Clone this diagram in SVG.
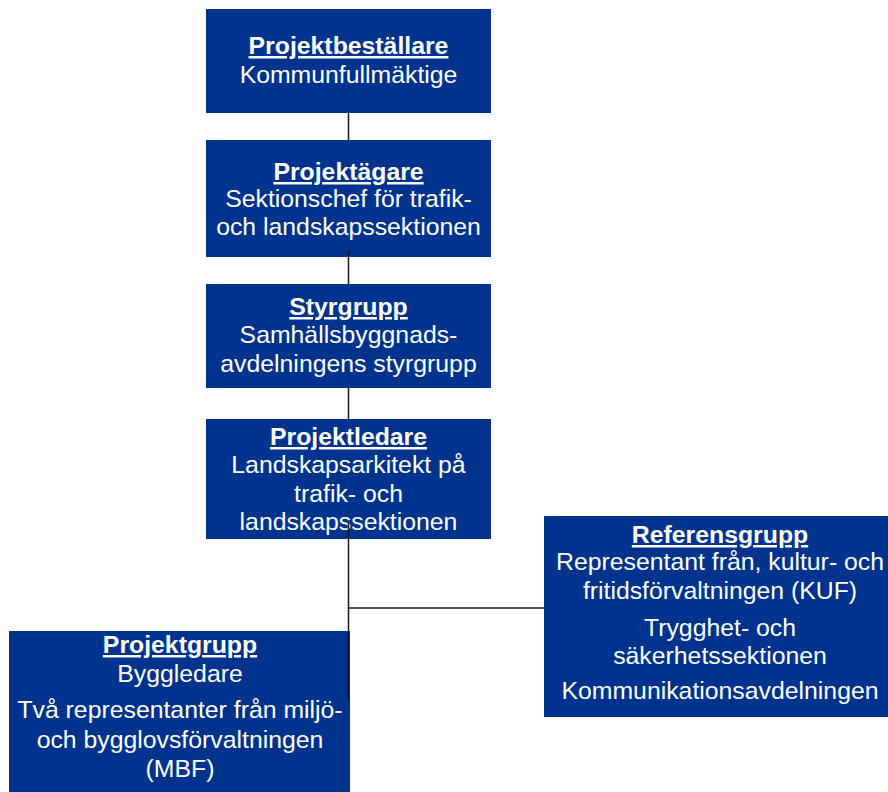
<svg xmlns="http://www.w3.org/2000/svg" width="888" height="792" viewBox="0 0 888 792">
<style>
.box{fill:#00338D;}
text{font-family:"Liberation Sans",Arial,sans-serif;fill:#FFFFFF;text-anchor:middle;font-size:24.8px;}
.t{font-weight:bold;text-decoration:underline;}
.c{stroke:#1a1a1a;stroke-width:1.5;fill:none;}
</style>
<rect width="888" height="792" fill="#FFFFFF"/>
<g id="projektbestallare">
<rect class="box" x="206" y="9" width="285" height="104"/>
<text class="t" x="348.5" y="54">Projektbeställare</text>
<text x="348.5" y="83">Kommunfullmäktige</text>
</g>
<g id="projektagare">
<rect class="box" x="206" y="140" width="285" height="117"/>
<text class="t" x="348.5" y="180">Projektägare</text>
<text x="348.5" y="207">Sektionschef för trafik-</text>
<text x="348.5" y="235">och landskapssektionen</text>
</g>
<g id="styrgrupp">
<rect class="box" x="206" y="284" width="285" height="104"/>
<text class="t" x="348.5" y="315">Styrgrupp</text>
<text x="348.5" y="343">Samhällsbyggnads-</text>
<text x="348.5" y="372">avdelningens styrgrupp</text>
</g>
<g id="projektledare">
<rect class="box" x="206" y="419" width="285" height="120"/>
<text class="t" x="348.5" y="445">Projektledare</text>
<text x="348.5" y="473">Landskapsarkitekt på</text>
<text x="348.5" y="502">trafik- och</text>
<text x="348.5" y="530">landskapssektionen</text>
</g>
<g id="projektgrupp">
<rect class="box" x="9" y="631" width="341" height="161"/>
<text class="t" x="180" y="653">Projektgrupp</text>
<text x="180" y="682">Byggledare</text>
<text x="180" y="718">Två representanter från miljö-</text>
<text x="180" y="748">och bygglovsförvaltningen</text>
<text x="180" y="777">(MBF)</text>
</g>
<g id="referensgrupp">
<rect class="box" x="544" y="516" width="344" height="201"/>
<text class="t" x="720" y="543">Referensgrupp</text>
<text x="720" y="570">Representant från, kultur- och</text>
<text x="720" y="599">fritidsförvaltningen (KUF)</text>
<text x="720" y="636">Trygghet- och</text>
<text x="720" y="664">säkerhetssektionen</text>
<text x="720" y="699">Kommunikationsavdelningen</text>
</g>
<g id="connectors">
<line class="c" x1="348.5" y1="113" x2="348.5" y2="140"/>
<line class="c" x1="348.5" y1="250" x2="348.5" y2="284"/>
<line class="c" x1="348.5" y1="388" x2="348.5" y2="419"/>
<line class="c" x1="348.5" y1="523" x2="348.5" y2="700"/>
<line class="c" x1="348.5" y1="608" x2="544" y2="608"/>
</g>
</svg>
